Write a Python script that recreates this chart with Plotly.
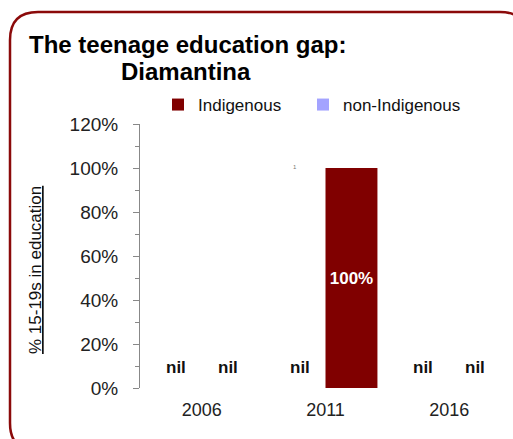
import plotly.graph_objects as go

# Census years and share of 15-19 year olds in education (fraction)
years = ["2006", "2011", "2016"]
non_indigenous = [0.0, 0.0, 0.0]
indigenous = [0.0, 1.0, 0.0]
series_names = ["non-Indigenous", "Indigenous"]
y_ticks = [0, 0.2, 0.4, 0.6, 0.8, 1.0, 1.2]

W, H = 513, 439
L, R, T, B = 140, 2, 124, 51
PW, PH = W - L - R, H - T - B

MAROON = "#800000"
LAVENDER = "#a3a3ff"
FONT = "Liberation Sans, Arial, sans-serif"


def px(x):
    return (x - L) / PW


def py(y):
    return (H - B - y) / PH


fig = go.Figure()
fig.add_trace(go.Bar(
    name=series_names[0], x=years, y=non_indigenous, legend="legend2",
    marker_color=LAVENDER, marker_line_width=0,
))
fig.add_trace(go.Bar(
    name=series_names[1], x=years, y=indigenous, legend="legend",
    marker_color=MAROON, marker_line_width=0,
    text=[f"{v:.0%}" if v > 0 else "" for v in indigenous],
    textposition="inside", insidetextanchor="middle",
    textfont=dict(family=FONT, size=17, color="white", weight="bold"),
))

annotations = []
# "nil" labels for empty series values
for shift, vals in ((-26, non_indigenous), (26, indigenous)):
    for i, v in enumerate(vals):
        if v == 0:
            annotations.append(dict(
                x=i, y=0, xref="x", yref="y", xshift=shift, yshift=21,
                text="<b>nil</b>", showarrow=False,
                font=dict(family=FONT, size=17, color="#111"),
            ))

# chart title
annotations.append(dict(
    x=px(187), y=py(45), xref="paper", yref="paper",
    text="<b>The teenage education gap:</b>", showarrow=False,
    xanchor="center", yanchor="middle",
    font=dict(family=FONT, size=24, color="#000"),
))
annotations.append(dict(
    x=px(186), y=py(72), xref="paper", yref="paper",
    text="<b>Diamantina</b>", showarrow=False,
    xanchor="center", yanchor="middle",
    font=dict(family=FONT, size=24, color="#000"),
))
# y-axis title
annotations.append(dict(
    x=px(35), y=py(270), xref="paper", yref="paper",
    text="<u>% 15-19s in education</u>", showarrow=False, textangle=-90,
    xanchor="center", yanchor="middle",
    font=dict(family=FONT, size=17, color="#111"),
))
annotations.append(dict(
    x=px(295), y=py(162), xref="paper", yref="paper",
    text="1", showarrow=False,
    font=dict(family=FONT, size=6, color="#777"),
))

# rounded frame around the chart
x0, y0, x1, y1, r = px(10), py(12), px(528), py(451), 28
rx, ry = r / PW, r / PH
frame = (
    f"M {x0},{y0 - ry} L {x0},{y1 + ry} Q {x0},{y1} {x0 + rx},{y1} "
    f"L {x1 - rx},{y1} Q {x1},{y1} {x1},{y1 + ry} L {x1},{y0 - ry} "
    f"Q {x1},{y0} {x1 - rx},{y0} L {x0 + rx},{y0} Q {x0},{y0} {x0},{y0 - ry} Z"
)

legend_style = dict(
    orientation="h", xref="container", yref="container",
    xanchor="left", yanchor="middle",
    font=dict(family=FONT, size=17, color="#111"),
    bgcolor="rgba(0,0,0,0)",
)

fig.update_layout(
    width=W, height=H,
    margin=dict(l=L, r=R, t=T, b=B, pad=0, autoexpand=False),
    paper_bgcolor="white", plot_bgcolor="white",
    barmode="group", bargap=0.16, bargroupgap=0,
    font=dict(family=FONT, color="#111"),
    showlegend=True,
    legend=dict(x=158 / W, y=1 - 105 / H, **legend_style),
    legend2=dict(x=303 / W, y=1 - 105 / H, **legend_style),
    annotations=annotations,
    shapes=[dict(type="path", path=frame, xref="paper", yref="paper",
                 line=dict(color="#8b0a0a", width=2.5), layer="below")],
)
fig.update_xaxes(
    type="category", range=[-0.5, 2.5], showline=False, ticks="", showgrid=False,
    ticklabelstandoff=9,
    tickfont=dict(family=FONT, size=18, color="#222"),
)
fig.update_yaxes(
    range=[0, 1.2], tickvals=y_ticks, tickformat=".0%",
    showline=True, linecolor="#888", linewidth=1,
    ticks="outside", ticklen=6, tickcolor="#888",
    minor=dict(dtick=0.1, ticks="outside", ticklen=4, tickcolor="#888"),
    showgrid=False, zeroline=False, ticklabelstandoff=11,
    tickfont=dict(family=FONT, size=19, color="#222"),
)

fig.write_html("out.html")
